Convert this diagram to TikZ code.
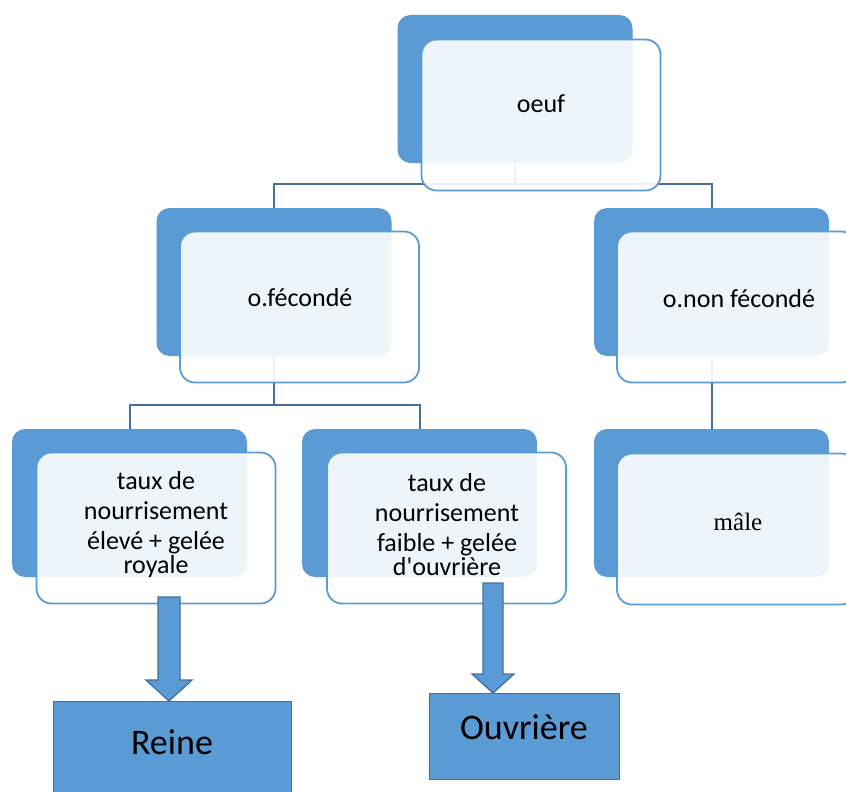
\documentclass[tikz,border=0pt]{standalone}
\usepackage{fontspec}
\setmainfont{Carlito}
\newfontfamily\serifface{Liberation Serif}
\usetikzlibrary{calc}
\definecolor{sablue}{HTML}{5B9BD5}
\definecolor{sadark}{HTML}{41719C}
\pgfdeclarelayer{bg}
\pgfsetlayers{bg,main}
\begin{document}
\begin{tikzpicture}[x=1pt,y=-1pt,
  backbox/.style={fill=sablue, rounded corners=13pt, minimum width=235pt, minimum height=148pt, inner sep=0pt},
  frontbox/.style={draw=sablue, line width=1.8pt, fill=white, fill opacity=0.9, draw opacity=1, rounded corners=15pt, minimum width=239pt, minimum height=151pt, inner sep=0pt},
  lbl/.style={font=\fontsize{26}{30}\selectfont, align=center, inner sep=0pt, text=black},
  biglbl/.style={font=\fontsize{36}{40}\selectfont, inner sep=0pt, text=black},
  conn/.style={draw=sadark, line width=2pt},
  blockarrow/.style={fill=sablue, draw=sadark, line width=1.3pt, line join=miter},
  result/.style={fill=sablue, draw=sadark, line width=1.3pt, inner sep=0pt}
]
\useasboundingbox (0,0) rectangle (846,792);
\clip (0,0) rectangle (846,792);

% level 1
\node[backbox] (oeufB) at (515,89) {};
\node[frontbox] (oeufF) at (541,115) {};
\node[lbl] (oeufT) at (541,104) {oeuf};

% level 2
\node[backbox] (fecB) at (274,282) {};
\node[frontbox] (fecF) at (299.5,307) {};
\node[lbl] (fecT) at (300,298) {o.fécondé};

\node[backbox] (nfB) at (711.5,282) {};
\node[frontbox] (nfF) at (736.5,307) {};
\node[lbl] (nfT) at (739,299) {o.non fécondé};

% level 3
\node[backbox] (t1B) at (129.5,503) {};
\node[frontbox] (t1F) at (156,528) {};
\node[lbl] (t1T) at (156,525) {taux de\\nourrisement\\élevé + gelée\\[-6pt]royale};

\node[backbox] (t2B) at (419.5,503) {};
\node[frontbox] (t2F) at (446.5,528) {};
\node[lbl] (t2T) at (447,525) {taux de\\nourrisement\\faible + gelée\\[-6pt]d\textquotesingle ouvrière};

\node[backbox] (mB) at (711.5,503) {};
\node[frontbox] (mF) at (736.5,529) {};
\node[lbl, font=\serifface\fontsize{25}{30}\selectfont] (mT) at (738,522) {mâle};

% background and connectors
\begin{pgfonlayer}{bg}
\fill[white] (0,0) rectangle (846,792);
\draw[conn] (oeufB.south) -- ++(0,21);
\draw[conn] (fecB.north) -- ++(0,-24) -| (nfB.north);
\draw[conn] (fecB.south) -- ++(0,49);
\draw[conn] (t1B.north) -- ++(0,-24) -| (t2B.north);
\draw[conn] (nfB.south) -- (mB.north);
\end{pgfonlayer}

% results
\node[result, minimum width=238pt, minimum height=110pt, anchor=north west] (reine) at (53,701) {};
\node[biglbl] (reineT) at (172,742) {Reine};
\node[result, minimum width=190pt, minimum height=86pt, anchor=north west] (ouvr) at (429,693) {};
\node[biglbl] (ouvrT) at (524,727) {Ouvrière};

% block arrows
\coordinate (rtip) at (169,701);
\draw[blockarrow] ($(rtip)+(-11,-104)$) -- ($(rtip)+(11,-104)$) -- ($(rtip)+(11,-21)$) -- ($(rtip)+(23,-21)$) -- (rtip) -- ($(rtip)+(-23,-21)$) -- ($(rtip)+(-11,-21)$) -- cycle;
\coordinate (otip) at (493,693);
\draw[blockarrow] ($(otip)+(-10,-110)$) -- ($(otip)+(10,-110)$) -- ($(otip)+(10,-19)$) -- ($(otip)+(21,-19)$) -- (otip) -- ($(otip)+(-21,-19)$) -- ($(otip)+(-10,-19)$) -- cycle;
\end{tikzpicture}
\end{document}
